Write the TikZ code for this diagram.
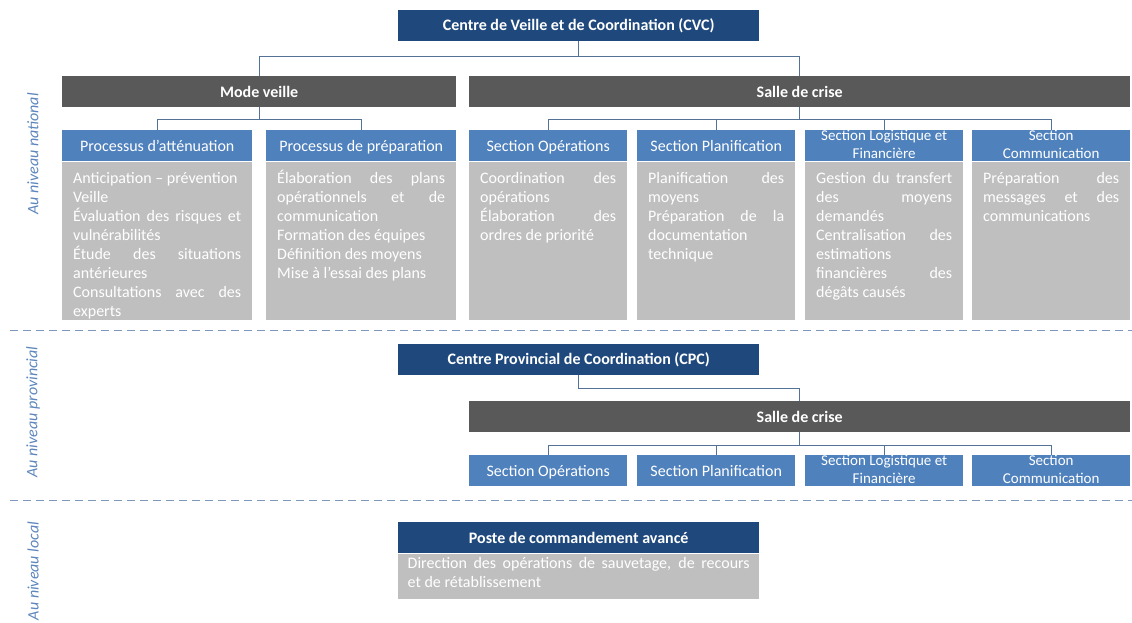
\documentclass[tikz,border=0pt]{standalone}
\usepackage{fontspec}
\setmainfont{Carlito}
\definecolor{cvcBlue}{RGB}{31,73,125}
\definecolor{barGray}{RGB}{89,89,89}
\definecolor{headBlue}{RGB}{79,129,189}
\definecolor{bodyGray}{RGB}{191,191,191}
\definecolor{linkBlue}{RGB}{84,114,150}
\definecolor{sepBlue}{RGB}{125,152,186}
\definecolor{levelBlue}{RGB}{92,134,188}
\hyphenpenalty=10000
\exhyphenpenalty=10000

\begin{document}
\begin{tikzpicture}[
    x=1pt, y=-1pt,
    titlebox/.style={fill=cvcBlue, text=white, anchor=north west, minimum width=361pt,
      minimum height=31pt, inner sep=0pt, font=\bfseries\fontsize{16}{19}\selectfont},
    crisebar/.style={fill=barGray, text=white, anchor=north west, minimum width=#1,
      minimum height=31pt, inner sep=0pt, font=\bfseries\fontsize{16}{19}\selectfont},
    headbox/.style={fill=headBlue, text=white, anchor=north west, text width=#1,
      inner xsep=4pt, inner ysep=0pt, align=flush center, text height=21pt, text depth=10pt,
      font=\fontsize{16}{19}\selectfont},
    twoline/.style={text height=10pt, text depth=21pt, font=\fontsize{15}{18}\selectfont},
    bodybox/.style={fill=bodyGray, text=white, anchor=north west, text width=#1,
      inner xsep=11pt, inner ysep=0pt, align=justify, text height=22pt, text depth=136pt,
      font=\fontsize{16}{19}\selectfont},
    link/.style={draw=linkBlue, line width=1.2pt},
    levelsep/.style={draw=sepBlue, line width=1pt, dash pattern=on 8pt off 5pt},
    levellabel/.style={rotate=90, text=levelBlue, font=\itshape\fontsize{16}{19}\selectfont},
  ]
    \useasboundingbox (0,0) rectangle (1132,623);

    % national level
    \node[levellabel] (natlabel) at (33,154) {Au niveau national};
    \node[titlebox] (cvc) at (398,10) {Centre de Veille et de Coordination (CVC)};
    \node[crisebar=394pt] (veille) at (62,76) {Mode veille};
    \node[crisebar=661pt] (crise) at (469,76) {Salle de crise};
    \draw[link] (cvc.south) -- ++(0,15) -| (veille.north);
    \draw[link] (cvc.south) -- ++(0,15) -| (crise.north);

    % Mode veille
    \node[headbox=182pt] (attn) at (62,130) {Processus d’atténuation};
    \node[headbox=182pt] (prep) at (266,130) {Processus de préparation};
    \foreach \p in {attn,prep}
      \draw[link] (veille.south) -- ++(0,12) -| (\p.north);
    \node[bodybox=168pt] (attnbody) at (attn.south west) {Anticipation – prévention\par
      Veille\par
      Évaluation des risques et\linebreak vulnérabilités\par
      Étude des situations\linebreak antérieures\par
      Consultations avec des\linebreak experts};
    \node[bodybox=168pt] (prepbody) at (prep.south west) {Élaboration des plans\linebreak
      opérationnels et de\linebreak communication\par
      Formation des équipes\par
      Définition des moyens\par
      Mise à l’essai des plans};

    % Salle de crise (CVC)
    \node[headbox=150pt] (secop) at (469,130) {Section Opérations};
    \node[headbox=150pt] (secplan) at (637,130) {Section Planification};
    \node[headbox=150pt, twoline] (seclog) at (805,130) {Section Logistique et\\Financière};
    \node[headbox=150pt, twoline] (seccom) at (972,130) {Section\\Communication};
    \foreach \s in {secop,secplan,seclog,seccom}
      \draw[link] (crise.south) -- ++(0,12) -| (\s.north);
    \node[bodybox=136pt] (secopbody) at (secop.south west) {Coordination des\linebreak
      opérations\par
      Élaboration des\linebreak ordres de priorité};
    \node[bodybox=136pt] (secplanbody) at (secplan.south west) {Planification des\linebreak
      moyens\par
      Préparation de la\linebreak documentation\linebreak technique};
    \node[bodybox=136pt] (seclogbody) at (seclog.south west) {Gestion du transfert\linebreak
      des moyens\linebreak demandés\par
      Centralisation des\linebreak estimations\linebreak financières des\linebreak
      dégâts causés};
    \node[bodybox=136pt] (seccombody) at (seccom.south west) {Préparation des\linebreak
      messages et des\linebreak communications};

    \draw[levelsep] (10,330) -- (1132,330);

    % provincial level
    \node[levellabel] (provlabel) at (33,412) {Au niveau provincial};
    \node[titlebox] (cpc) at (398,344) {Centre Provincial de Coordination (CPC)};
    \node[crisebar=661pt] (pcrise) at (469,401) {Salle de crise};
    \draw[link] (cpc.south) -- ++(0,13) -| (pcrise.north);
    \node[headbox=150pt] (psecop) at (469,455) {Section Opérations};
    \node[headbox=150pt] (psecplan) at (637,455) {Section Planification};
    \node[headbox=150pt, twoline] (pseclog) at (805,455) {Section Logistique et\\Financière};
    \node[headbox=150pt, twoline] (pseccom) at (972,455) {Section\\Communication};
    \foreach \s in {psecop,psecplan,pseclog,pseccom}
      \draw[link] (pcrise.south) -- ++(0,13) -| (\s.north);

    \draw[levelsep] (10,500) -- (1132,500);

    % local level
    \node[levellabel] (loclabel) at (33,571) {Au niveau local};
    \node[titlebox] (pca) at (398,522) {Poste de commandement avancé};
    \node[bodybox=342pt, inner xsep=9.5pt, text height=15pt, text depth=30pt] (pcabody)
      at (pca.south west) {Direction des opérations de sauvetage, de recours\linebreak
      et de rétablissement};
  \end{tikzpicture}
\end{document}
